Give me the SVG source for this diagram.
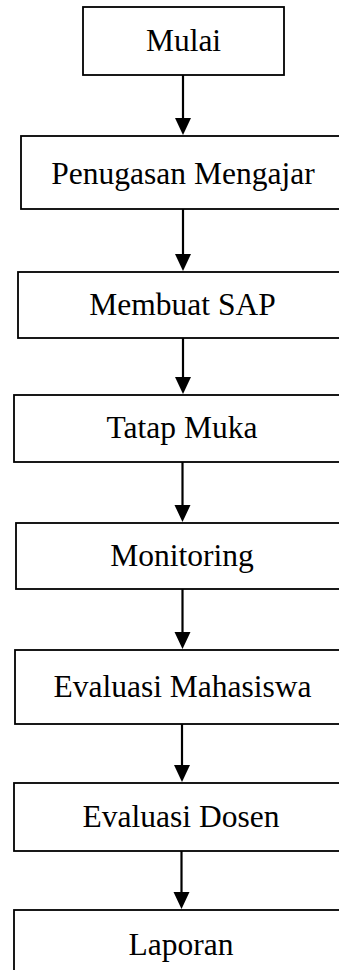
<svg xmlns="http://www.w3.org/2000/svg" width="339" height="970" viewBox="0 0 339 970">
<style>
.box{fill:#fff;stroke:#000;stroke-width:1.8}
.lbl{font-family:"Liberation Serif","Times New Roman",serif;font-size:31.5px;fill:#000;text-anchor:middle}
.edge{stroke:#000;stroke-width:2.2;fill:none}
.head{fill:#000}
</style>
<rect x="0" y="0" width="339" height="970" fill="#fff"/>
<g id="n1"><rect class="box" x="83" y="7" width="201" height="68"/><text class="lbl" x="183.5" y="51">Mulai</text></g>
<g id="n2"><rect class="box" x="21" y="136" width="330" height="73"/><text class="lbl" x="183" y="184">Penugasan Mengajar</text></g>
<g id="n3"><rect class="box" x="18" y="272" width="330" height="66"/><text class="lbl" x="182.5" y="315">Membuat SAP</text></g>
<g id="n4"><rect class="box" x="14" y="395" width="330" height="67"/><text class="lbl" x="182" y="438">Tatap Muka</text></g>
<g id="n5"><rect class="box" x="16" y="523" width="330" height="66"/><text class="lbl" x="182" y="566">Monitoring</text></g>
<g id="n6"><rect class="box" x="15" y="650" width="330" height="74"/><text class="lbl" x="182.5" y="697">Evaluasi Mahasiswa</text></g>
<g id="n7"><rect class="box" x="14" y="783" width="330" height="68"/><text class="lbl" x="181" y="827">Evaluasi Dosen</text></g>
<g id="n8"><rect class="box" x="14" y="910" width="330" height="70"/><text class="lbl" x="181" y="955">Laporan</text></g>
<g id="connectors">
<line class="edge" x1="183" y1="75" x2="183" y2="120"/><polygon class="head" points="175,118 191,118 183,135"/>
<line class="edge" x1="183" y1="209" x2="183" y2="256"/><polygon class="head" points="175,254 191,254 183,271"/>
<line class="edge" x1="183" y1="338" x2="183" y2="379"/><polygon class="head" points="175,377 191,377 183,394"/>
<line class="edge" x1="182.5" y1="462" x2="182.5" y2="507"/><polygon class="head" points="174.5,505 190.5,505 182.5,522"/>
<line class="edge" x1="182.5" y1="589" x2="182.5" y2="634"/><polygon class="head" points="174.5,632 190.5,632 182.5,649"/>
<line class="edge" x1="182" y1="724" x2="182" y2="767"/><polygon class="head" points="174,765 190,765 182,782"/>
<line class="edge" x1="181.5" y1="851" x2="181.5" y2="894"/><polygon class="head" points="173.5,892 189.5,892 181.5,909"/>
</g>
</svg>
